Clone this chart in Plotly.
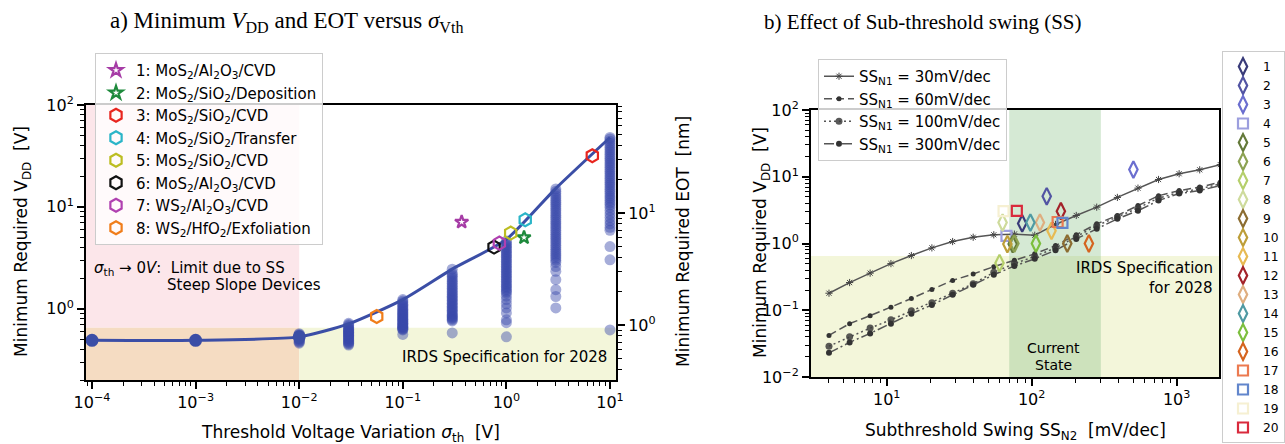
import plotly.graph_objects as go

W, H = 1285, 444

# ---------------- panel a: minimum VDD versus threshold-voltage variation ----------------
sigma_line = [1e-4, 1e-3, 1e-2, 0.03, 0.1, 0.3, 1.0, 3.0, 10.0]
vdd_line = [0.49, 0.49, 0.53, 0.71, 1.23, 2.45, 4.8, 15.2, 48.0]
sigma_limit_points = [1e-4, 1e-3, 1e-2]
vdd_limit_points = [0.49, 0.49, 0.53]

# Monte-Carlo spread of the required VDD at each sigma
mc_sigma = [0.01, 0.03, 0.1, 0.3, 1.0, 3.0, 10.0]
mc_vdd_0p01 = [0.46, 0.47, 0.48, 0.49, 0.50, 0.51, 0.52, 0.53, 0.54, 0.55, 0.56, 0.57]
mc_vdd_0p03 = [0.44, 0.45, 0.46, 0.47, 0.48, 0.49, 0.50, 0.51, 0.52, 0.53, 0.54,
               0.55, 0.56, 0.57, 0.58, 0.59, 0.60, 0.61, 0.62, 0.63, 0.64, 0.66,
               0.68, 0.70, 0.72]
mc_vdd_0p1 = [0.56, 0.62, 0.63, 0.64, 0.65, 0.66, 0.67, 0.68, 0.70, 0.71, 0.72,
              0.74, 0.75, 0.77, 0.79, 0.80, 0.82, 0.84, 0.86, 0.88, 0.90, 0.92,
              0.94, 0.97, 0.99, 1.02, 1.05, 1.08, 1.11, 1.15, 1.19, 1.23]
mc_vdd_0p3 = [0.58, 0.76, 0.78, 0.80, 0.82, 0.84, 0.86, 0.88, 0.91, 0.94, 0.97,
              1.00, 1.03, 1.06, 1.10, 1.13, 1.17, 1.21, 1.25, 1.29, 1.33, 1.38,
              1.43, 1.48, 1.53, 1.59, 1.65, 1.71, 1.78, 1.85, 1.92, 2.00, 2.08,
              2.16, 2.25, 2.45]
mc_vdd_1 = [0.53, 0.73, 0.78, 0.91, 1.02, 1.12, 1.23, 1.33, 1.43, 1.48, 1.54,
            1.60, 1.66, 1.72, 1.79, 1.86, 1.93, 2.00, 2.08, 2.16, 2.24, 2.33,
            2.42, 2.51, 2.61, 2.71, 2.82, 2.93, 3.04, 3.16, 3.28, 3.41, 3.54,
            3.68, 3.82, 3.97, 4.12, 4.28, 4.45, 4.62]
mc_vdd_3 = [1.02, 1.32, 1.54, 1.93, 2.33, 2.60, 2.85, 3.00, 3.15, 3.30, 3.46,
            3.63, 3.81, 4.00, 4.20, 4.41, 4.63, 4.86, 5.10, 5.35, 5.62, 5.90,
            6.19, 6.50, 6.82, 7.16, 7.52, 7.90, 8.29, 8.70, 9.14, 9.60, 10.1,
            10.6, 11.1, 11.6, 12.2, 12.8, 13.5, 14.2, 15.0]
mc_vdd_10 = [0.62, 3.02, 4.08, 5.90, 6.30, 6.80, 7.30, 7.90, 8.50, 9.20, 9.90,
             10.5, 11.0, 11.6, 12.2, 12.8, 13.5, 14.2, 14.9, 15.7, 16.5, 17.3,
             18.2, 19.1, 20.1, 21.1, 22.2, 23.3, 24.5, 25.7, 27.0, 28.4, 29.8,
             31.3, 32.9, 34.6, 36.3, 38.2, 40.1, 42.1, 44.2, 46.4, 48.0]
mc_columns = [mc_vdd_0p01, mc_vdd_0p03, mc_vdd_0p1, mc_vdd_0p3, mc_vdd_1, mc_vdd_3, mc_vdd_10]

# Reported devices
material_labels = [
    "1: MoS<sub>2</sub>/Al<sub>2</sub>O<sub>3</sub>/CVD",
    "2: MoS<sub>2</sub>/SiO<sub>2</sub>/Deposition",
    "3: MoS<sub>2</sub>/SiO<sub>2</sub>/CVD",
    "4: MoS<sub>2</sub>/SiO<sub>2</sub>/Transfer",
    "5: MoS<sub>2</sub>/SiO<sub>2</sub>/CVD",
    "6: MoS<sub>2</sub>/Al<sub>2</sub>O<sub>3</sub>/CVD",
    "7: WS<sub>2</sub>/Al<sub>2</sub>O<sub>3</sub>/CVD",
    "8: WS<sub>2</sub>/HfO<sub>2</sub>/Exfoliation",
]
material_sigma = [0.37, 1.48, 6.75, 1.52, 1.10, 0.76, 0.855, 0.056]
material_vdd = [7.1, 5.0, 31.8, 7.47, 5.53, 4.03, 4.41, 0.84]
material_colors = ["#a63ca6", "#1e8a3c", "#e8261f", "#2bb5c8", "#bcbd22",
                   "#111111", "#b040b0", "#f07d1a"]
material_symbols = ["star-open", "star-open"] + ["hexagon-open"] * 6

sigma_ticks = [1e-4, 1e-3, 1e-2, 1e-1, 1, 10]
sigma_tick_text = ["10<sup>−4</sup>", "10<sup>−3</sup>", "10<sup>−2</sup>",
                   "10<sup>−1</sup>", "10<sup>0</sup>", "10<sup>1</sup>"]
vdd_a_ticks = [1, 10, 100]
vdd_a_tick_text = ["10<sup>0</sup>", "10<sup>1</sup>", "10<sup>2</sup>"]
eot_ticks = [1, 10]
eot_tick_text = ["10<sup>0</sup>", "10<sup>1</sup>"]

irds_vdd = 0.65
sigma_ss_limit = 0.01

# ---------------- panel b: effect of the sub-threshold swing ----------------
ss_n2 = [4.0, 5.55, 7.69, 10.7, 14.8, 20.5, 28.5, 39.5, 54.8, 76.0,
         105, 146, 203, 281, 390, 541, 750, 1040, 1442, 2000]
vdd_ssn1_30 = [0.18, 0.26, 0.36, 0.50, 0.66, 0.86, 1.07, 1.24, 1.35, 1.38,
               1.33, 1.93, 2.63, 3.5, 4.9, 6.75, 9.1, 11.1, 12.7, 15.2]
vdd_ssn1_60 = [0.042, 0.063, 0.083, 0.111, 0.15, 0.205, 0.28, 0.35, 0.45, 0.56,
               0.70, 0.93, 1.35, 1.97, 2.63, 3.7, 5.2, 6.2, 7.0, 8.3]
vdd_ssn1_100 = [0.029, 0.040, 0.054, 0.072, 0.098, 0.13, 0.18, 0.25, 0.37, 0.50,
                0.64, 0.86, 1.25, 1.85, 2.5, 3.4, 4.8, 5.8, 6.6, 7.8]
vdd_ssn1_300 = [0.023, 0.033, 0.045, 0.063, 0.089, 0.12, 0.17, 0.24, 0.34, 0.46,
                0.59, 0.79, 1.17, 1.66, 2.34, 3.1, 4.4, 5.6, 6.2, 7.4]
ssn1_labels = ["SS<sub>N1</sub> = 30mV/dec", "SS<sub>N1</sub> = 60mV/dec",
               "SS<sub>N1</sub> = 100mV/dec", "SS<sub>N1</sub> = 300mV/dec"]

device_ids = [str(i) for i in range(1, 21)]
device_ss = [86, 127, 503, 67, 74, 76, 60, 63, 176, 68,
             137, 159, 114, 98, 107, 248, 151, 163, 64, 79]
device_vdd = [2.0, 5.1, 12.8, 1.30, 0.98, 1.0, 0.51, 2.06, 1.0, 0.98,
              1.55, 3.05, 2.06, 2.06, 1.0, 1.0, 2.1, 2.04, 3.05, 3.08]
device_colors = ["#393b79", "#5254a3", "#6b6ecf", "#9c9ede", "#637939", "#8ca252",
                 "#b5cf6b", "#cedb9c", "#8c6d31", "#bd9e39", "#e7ba52", "#a3222a",
                 "#dfae80", "#4f9aa3", "#7cbf3e", "#d5641f", "#ec7a50", "#6286cc",
                 "#f6f0d2", "#d92a3c"]
square_devices = {"4", "17", "18", "19", "20"}

ss_ticks = [10, 100, 1000]
ss_tick_text = ["10<sup>1</sup>", "10<sup>2</sup>", "10<sup>3</sup>"]
vdd_b_ticks = [0.01, 0.1, 1, 10, 100]
vdd_b_tick_text = ["10<sup>−2</sup>", "10<sup>−1</sup>", "10<sup>0</sup>",
                   "10<sup>1</sup>", "10<sup>2</sup>"]
current_ss_lo, current_ss_hi = 70, 300


def px(x):
    return x / W


def py(y):
    return 1 - y / H


def minor_ticks(e0, e1):
    return [m * 10 ** e for e in range(e0, e1) for m in range(2, 10)]


FONT = "DejaVu Sans"
fig = go.Figure()


def region(x0, x1, y0, y1, color, xa, ya):
    fig.add_trace(go.Scatter(x=[x0, x1, x1, x0, x0], y=[y0, y0, y1, y1, y0],
                             fill="toself", fillcolor=color, mode="lines",
                             line=dict(width=0), hoverinfo="skip", showlegend=False,
                             xaxis=xa, yaxis=ya))


# background regions, panel a
region(1e-6, sigma_ss_limit, irds_vdd, 1e4, "#fce6ea", "x", "y")
region(1e-6, sigma_ss_limit, 1e-3, irds_vdd, "#f5dcc2", "x", "y")
region(sigma_ss_limit, 1e3, 1e-3, irds_vdd, "#f3f6da", "x", "y")

# Monte-Carlo columns
for s, col in zip(mc_sigma, mc_columns):
    fig.add_trace(go.Scatter(x=[s] * len(col), y=col, mode="markers",
                             marker=dict(size=11, color="rgba(58,74,170,0.45)",
                                         line=dict(width=0)),
                             hoverinfo="skip", showlegend=False))

# minimum VDD curve
fig.add_trace(go.Scatter(x=sigma_line, y=vdd_line, mode="lines",
                         line=dict(color="#3b4ea6", width=3, shape="spline", smoothing=0.6),
                         showlegend=False))
fig.add_trace(go.Scatter(x=sigma_limit_points, y=vdd_limit_points, mode="markers",
                         marker=dict(size=13, color="#3b4ea6"), showlegend=False))

for lab, s, v, c, sym in zip(material_labels, material_sigma, material_vdd,
                             material_colors, material_symbols):
    fig.add_trace(go.Scatter(x=[s], y=[v], mode="markers", name=lab, legend="legend",
                             marker=dict(symbol=sym, size=13 if "hex" in sym else 10,
                                         color=c, line=dict(color=c, width=2.2))))

# EOT axis carrier
fig.add_trace(go.Scatter(x=[1], y=[1], yaxis="y2", mode="markers",
                         marker=dict(opacity=0), hoverinfo="skip", showlegend=False))

# background regions, panel b
region(0.1, 1e5, 1e-4, irds_vdd, "#f3f6da", "x2", "y3")
region(current_ss_lo, current_ss_hi, irds_vdd, 1e4, "#d5e9d4", "x2", "y3")
region(current_ss_lo, current_ss_hi, 1e-4, irds_vdd, "#cde2bc", "x2", "y3")

curve_styles = [
    (vdd_ssn1_30, "solid", dict(symbol="asterisk-open", size=6, color="#444",
                                line=dict(width=1, color="#444"))),
    (vdd_ssn1_60, "8px,4px", dict(symbol="circle", size=5, color="#333")),
    (vdd_ssn1_100, "2px,3px", dict(symbol="circle", size=7, color="rgba(60,60,60,0.85)")),
    (vdd_ssn1_300, "10px,3px,2px,3px", dict(symbol="circle", size=6, color="#333")),
]
for lab, (vals, dash, mk) in zip(ssn1_labels, curve_styles):
    fig.add_trace(go.Scatter(x=ss_n2, y=vals, mode="lines+markers", name=lab,
                             legend="legend3", xaxis="x2", yaxis="y3",
                             line=dict(color="#555", width=1.5, dash=dash), marker=mk))

for d, s, v, c in zip(device_ids, device_ss, device_vdd, device_colors):
    sq = d in square_devices
    fig.add_trace(go.Scatter(x=[s], y=[v], mode="markers", name=d, legend="legend2",
                             xaxis="x2", yaxis="y3",
                             marker=dict(symbol="square-open" if sq else "diamond-tall-open",
                                         size=10 if sq else 12, color=c,
                                         line=dict(color=c, width=2.2))))

axis_common = dict(type="log", showline=True, linewidth=2, linecolor="black",
                   ticks="outside", ticklen=7, tickwidth=1.5, tickcolor="black",
                   showgrid=False, zeroline=False, tickmode="array", automargin=False,
                   tickfont=dict(family=FONT, size=16, color="black"))
minor_common = dict(ticks="outside", ticklen=4, tickwidth=1, tickcolor="black",
                    showgrid=False, tickmode="array")

fig.update_layout(
    width=W, height=H, margin=dict(l=0, r=0, t=0, b=0, autoexpand=False),
    paper_bgcolor="white", plot_bgcolor="white",
    font=dict(family=FONT, size=15, color="black"),
    xaxis=dict(axis_common, domain=[px(86), px(616)], range=[-4.058, 1.058],
               anchor="y", mirror=True, tickvals=sigma_ticks, ticktext=sigma_tick_text,
               minor=dict(minor_common, tickvals=minor_ticks(-5, 2))),
    yaxis=dict(axis_common, domain=[py(380), py(105)], range=[-0.699, 2.0],
               anchor="x", tickvals=vdd_a_ticks, ticktext=vdd_a_tick_text,
               minor=dict(minor_common, tickvals=minor_ticks(-1, 2))),
    yaxis2=dict(axis_common, overlaying="y", side="right", anchor="x",
                range=[-0.491, 1.964], tickvals=eot_ticks, ticktext=eot_tick_text,
                minor=dict(minor_common, tickvals=minor_ticks(-1, 2))),
    xaxis2=dict(axis_common, domain=[px(811), px(1219)], range=[0.478, 3.292],
                anchor="y3", mirror=True, tickvals=ss_ticks, ticktext=ss_tick_text,
                minor=dict(minor_common, tickvals=minor_ticks(0, 4))),
    yaxis3=dict(axis_common, domain=[py(377), py(110)], range=[-2, 2],
                anchor="x2", mirror=True, tickvals=vdd_b_ticks, ticktext=vdd_b_tick_text,
                minor=dict(minor_common, tickvals=minor_ticks(-2, 2))),
    legend=dict(x=px(95), y=py(53), xanchor="left", yanchor="top",
                bgcolor="rgba(255,255,255,0.8)", bordercolor="#cccccc", borderwidth=1,
                font=dict(family=FONT, size=15)),
    legend2=dict(x=1.0, y=py(51), xanchor="right", yanchor="top",
                 bgcolor="white", bordercolor="#cccccc", borderwidth=1,
                 font=dict(family=FONT, size=12.3)),
    legend3=dict(x=px(818), y=py(59), xanchor="left", yanchor="top",
                 bgcolor="rgba(255,255,255,0.8)", bordercolor="#cccccc", borderwidth=1,
                 font=dict(family=FONT, size=15)),
)

ann = []


def text(x, y, t, size=15, angle=0, xanchor="center", family=FONT, align="center"):
    ann.append(dict(x=px(x), y=py(y), xref="paper", yref="paper", text=t,
                    showarrow=False, textangle=angle, xanchor=xanchor, yanchor="middle",
                    align=align, font=dict(family=family, size=size, color="black")))


SERIF = "Liberation Serif"
text(286, 22, "a) Minimum <i>V</i><sub>DD</sub> and EOT versus <i>σ</i><sub>Vth</sub>",
     size=23, family=SERIF)
text(923, 22, "b) Effect of Sub-threshold swing (SS)", size=21, family=SERIF)

text(351, 433, "Threshold Voltage Variation <i>σ</i><sub>th</sub>\u00a0\u00a0[V]", size=17)
text(22, 242, "Minimum Required V<sub>DD</sub>\u00a0\u00a0[V]", size=17, angle=-90)
text(683, 242, "Minimum Required EOT\u00a0\u00a0[nm]", size=17, angle=-90)
text(1015, 431, "Subthreshold Swing SS<sub>N2</sub>\u00a0\u00a0[mV/dec]", size=17)
text(762, 243, "Minimum Required V<sub>DD</sub>\u00a0\u00a0[V]", size=17, angle=-90)

text(92, 268, "<i>σ</i><sub>th</sub> → 0<i>V</i>:\u00a0 Limit due to SS", xanchor="left")
text(165, 285, "Steep Slope Devices", xanchor="left")
text(609, 357, "IRDS Specification for 2028", xanchor="right")

text(1215, 268, "IRDS Specification", xanchor="right")
text(1215, 288, "for 2028", xanchor="right")
text(1053, 348, "Current", size=14)
text(1053, 365, "State", size=14)

fig.update_layout(annotations=ann)
fig.write_html("out.html")
